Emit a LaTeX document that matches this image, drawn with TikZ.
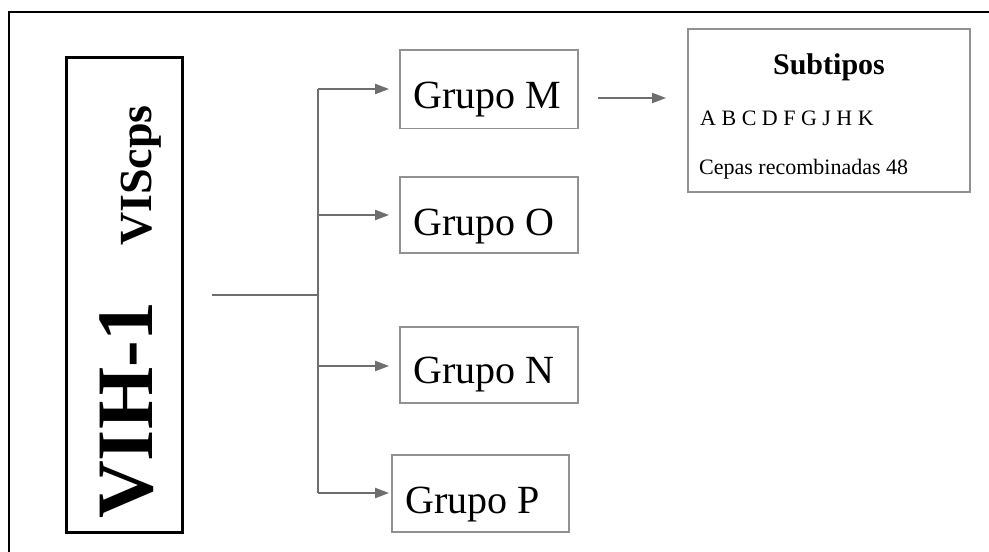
\documentclass[tikz,border=0pt]{standalone}
\usepackage{fontspec}
\setmainfont{Liberation Serif}
\usetikzlibrary{arrows.meta}
\definecolor{linegray}{HTML}{6E6E6E}
\definecolor{boxgray}{HTML}{919191}
\begin{document}
\begin{tikzpicture}[x=1pt,y=-1pt,
  grp/.style={draw=boxgray,line width=1.8pt,inner sep=0,fill=none},
  conn/.style={draw=linegray,line width=2pt},
  arr/.style={conn,-{Triangle[length=14pt,width=10pt]}},
  lbl/.style={inner sep=0,anchor=base west,font=\fontsize{40}{40}\selectfont},
  small/.style={inner sep=0,anchor=base west,font=\fontsize{22}{22}\selectfont},
  vert/.style={inner sep=0,anchor=base west,rotate=90}]
\useasboundingbox (0,0) rectangle (989,552);
\draw[line width=1.5pt] (9,552) -- (9,12) -- (989,12);
% main box
\node[draw=black,line width=3pt,minimum width=116pt,minimum height=474.5pt,inner sep=0] (vih) at (124,294.75) {};
\node[vert,font=\bfseries\fontsize{80}{80}\selectfont] (v1) at (152,519) {VIH-1};
\node[vert,font=\bfseries\fontsize{46}{46}\selectfont] (v2) at (151,246) {VIScps};
% group boxes
\node[grp,minimum width=178pt,minimum height=78.5pt] (M) at (489,89.25) {};
\node[grp,minimum width=178pt,minimum height=76pt] (O) at (489,215) {};
\node[grp,minimum width=178pt,minimum height=76pt] (N) at (489,365) {};
\node[grp,minimum width=177pt,minimum height=77pt] (P) at (480.5,493.5) {};
\node[lbl] (tM) at (413,108) {Grupo M};
\node[lbl] (tO) at (413,235) {Grupo O};
\node[lbl] (tN) at (413,383) {Grupo N};
\node[lbl] (tP) at (405,513) {Grupo P};
% subtipos
\node[grp,minimum width=282pt,minimum height=163pt] (S) at (829,110.5) {};
\node[inner sep=0,anchor=base,font=\bfseries\fontsize{30}{30}\selectfont] (st) at (829,74) {Subtipos};
\node[small] (abc) at (700,125) {A B C D F G J H K};
\node[small] (cep) at (699,174) {Cepas recombinadas 48};
% connectors
\coordinate (hs) at (212,295);
\coordinate (j) at (318,295);
\coordinate (vt) at (318,89);
\coordinate (vo) at (318,215);
\coordinate (vn) at (318,366);
\coordinate (vb) at (318,493);
\draw[conn] (hs) -- (j);
\draw[conn] (vt) -- (vb);
\draw[arr,shorten >=10pt] (vt) -- (M.west |- vt);
\draw[arr,shorten >=10pt] (vo) -- (O.west |- vo);
\draw[arr,shorten >=10pt] (vn) -- (N.west |- vn);
\draw[arr,shorten >=2pt] (vb) -- (P.west |- vb);
\coordinate (ms) at (598,98);
\draw[arr,shorten >=21pt] (ms) -- (S.west |- ms);
\end{tikzpicture}
\end{document}
